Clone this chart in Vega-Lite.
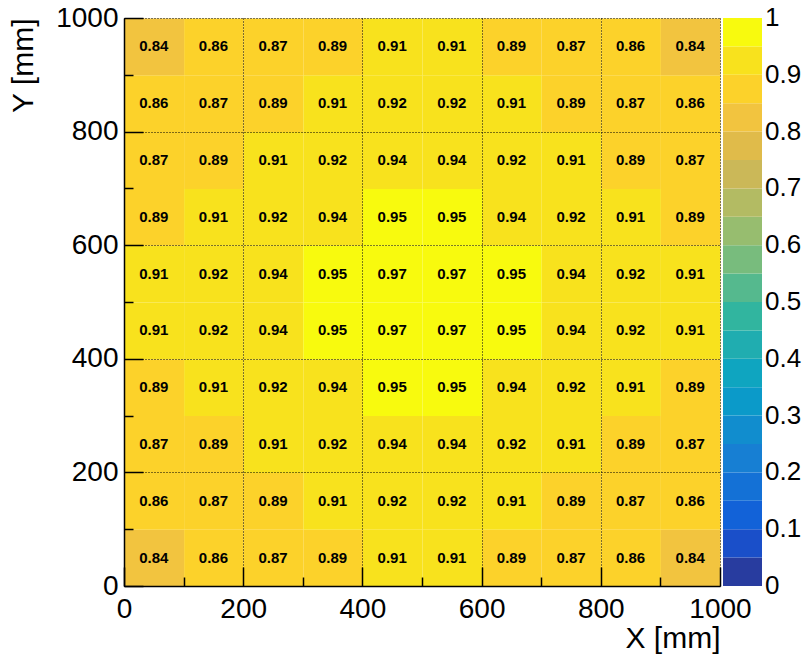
{
  "$schema": "https://vega.github.io/schema/vega-lite/v6.json",
  "width": 596,
  "height": 568,
  "autosize": {"type": "none"},
  "padding": {"left": 124, "top": 18, "right": 85, "bottom": 71},
  "background": "white",
  "config": {"view": {"stroke": null}, "font": "Liberation Sans"},
  "data": {"values": [
    {"x":50,"y":50,"v":0.84},{"x":150,"y":50,"v":0.86},{"x":250,"y":50,"v":0.87},{"x":350,"y":50,"v":0.89},{"x":450,"y":50,"v":0.91},{"x":550,"y":50,"v":0.91},{"x":650,"y":50,"v":0.89},{"x":750,"y":50,"v":0.87},{"x":850,"y":50,"v":0.86},{"x":950,"y":50,"v":0.84},
    {"x":50,"y":150,"v":0.86},{"x":150,"y":150,"v":0.87},{"x":250,"y":150,"v":0.89},{"x":350,"y":150,"v":0.91},{"x":450,"y":150,"v":0.92},{"x":550,"y":150,"v":0.92},{"x":650,"y":150,"v":0.91},{"x":750,"y":150,"v":0.89},{"x":850,"y":150,"v":0.87},{"x":950,"y":150,"v":0.86},
    {"x":50,"y":250,"v":0.87},{"x":150,"y":250,"v":0.89},{"x":250,"y":250,"v":0.91},{"x":350,"y":250,"v":0.92},{"x":450,"y":250,"v":0.94},{"x":550,"y":250,"v":0.94},{"x":650,"y":250,"v":0.92},{"x":750,"y":250,"v":0.91},{"x":850,"y":250,"v":0.89},{"x":950,"y":250,"v":0.87},
    {"x":50,"y":350,"v":0.89},{"x":150,"y":350,"v":0.91},{"x":250,"y":350,"v":0.92},{"x":350,"y":350,"v":0.94},{"x":450,"y":350,"v":0.95},{"x":550,"y":350,"v":0.95},{"x":650,"y":350,"v":0.94},{"x":750,"y":350,"v":0.92},{"x":850,"y":350,"v":0.91},{"x":950,"y":350,"v":0.89},
    {"x":50,"y":450,"v":0.91},{"x":150,"y":450,"v":0.92},{"x":250,"y":450,"v":0.94},{"x":350,"y":450,"v":0.95},{"x":450,"y":450,"v":0.97},{"x":550,"y":450,"v":0.97},{"x":650,"y":450,"v":0.95},{"x":750,"y":450,"v":0.94},{"x":850,"y":450,"v":0.92},{"x":950,"y":450,"v":0.91},
    {"x":50,"y":550,"v":0.91},{"x":150,"y":550,"v":0.92},{"x":250,"y":550,"v":0.94},{"x":350,"y":550,"v":0.95},{"x":450,"y":550,"v":0.97},{"x":550,"y":550,"v":0.97},{"x":650,"y":550,"v":0.95},{"x":750,"y":550,"v":0.94},{"x":850,"y":550,"v":0.92},{"x":950,"y":550,"v":0.91},
    {"x":50,"y":650,"v":0.89},{"x":150,"y":650,"v":0.91},{"x":250,"y":650,"v":0.92},{"x":350,"y":650,"v":0.94},{"x":450,"y":650,"v":0.95},{"x":550,"y":650,"v":0.95},{"x":650,"y":650,"v":0.94},{"x":750,"y":650,"v":0.92},{"x":850,"y":650,"v":0.91},{"x":950,"y":650,"v":0.89},
    {"x":50,"y":750,"v":0.87},{"x":150,"y":750,"v":0.89},{"x":250,"y":750,"v":0.91},{"x":350,"y":750,"v":0.92},{"x":450,"y":750,"v":0.94},{"x":550,"y":750,"v":0.94},{"x":650,"y":750,"v":0.92},{"x":750,"y":750,"v":0.91},{"x":850,"y":750,"v":0.89},{"x":950,"y":750,"v":0.87},
    {"x":50,"y":850,"v":0.86},{"x":150,"y":850,"v":0.87},{"x":250,"y":850,"v":0.89},{"x":350,"y":850,"v":0.91},{"x":450,"y":850,"v":0.92},{"x":550,"y":850,"v":0.92},{"x":650,"y":850,"v":0.91},{"x":750,"y":850,"v":0.89},{"x":850,"y":850,"v":0.87},{"x":950,"y":850,"v":0.86},
    {"x":50,"y":950,"v":0.84},{"x":150,"y":950,"v":0.86},{"x":250,"y":950,"v":0.87},{"x":350,"y":950,"v":0.89},{"x":450,"y":950,"v":0.91},{"x":550,"y":950,"v":0.91},{"x":650,"y":950,"v":0.89},{"x":750,"y":950,"v":0.87},{"x":850,"y":950,"v":0.86},{"x":950,"y":950,"v":0.84}
  ]},
  "layer": [
    {
      "mark": {"type": "rect"},
      "encoding": {
        "x": {"field": "x", "type": "quantitative", "bin": {"step": 100, "extent": [0, 1000]},
          "scale": {"domain": [0, 1000], "nice": false, "zero": false},
          "axis": {"orient": "bottom", "values": [0, 200, 400, 600, 800, 1000], "format": "d", "zindex": 1,
            "grid": true, "gridColor": "black", "gridDash": [1, 2], "gridWidth": 1, "gridOpacity": 1,
            "tickSize": -19, "tickColor": "black", "tickWidth": 1.5,
            "domainColor": "black", "domainWidth": 1.5,
            "labelFontSize": 28, "labelColor": "black", "labelPadding": 28, "labelFlush": false, "labelOverlap": false,
            "title": "X [mm]", "titleFontSize": 30, "titleFontWeight": "normal", "titleColor": "black",
            "titleAlign": "right", "titleAnchor": "end", "titleX": 596, "titleY": 61, "titleBaseline": "alphabetic"}},
        "y": {"field": "y", "type": "quantitative", "bin": {"step": 100, "extent": [0, 1000]},
          "scale": {"domain": [0, 1000], "nice": false, "zero": false},
          "axis": {"orient": "left", "values": [0, 200, 400, 600, 800, 1000], "format": "d", "zindex": 1,
            "grid": true, "gridColor": "black", "gridDash": [1, 2], "gridWidth": 1, "gridOpacity": 1,
            "tickSize": -19, "tickColor": "black", "tickWidth": 1.5,
            "domainColor": "black", "domainWidth": 1.5,
            "labelFontSize": 28, "labelColor": "black", "labelPadding": 25, "labelFlush": false, "labelOverlap": false,
            "title": "Y [mm]", "titleFontSize": 30, "titleFontWeight": "normal", "titleColor": "black",
            "titleAngle": 270, "titleAlign": "right", "titleAnchor": "end", "titleX": -92, "titleY": 0, "titleBaseline": "alphabetic"}},
        "color": {"field": "v", "type": "quantitative",
          "scale": {"type": "quantize", "domain": [0, 1], "nice": false, "zero": false,
            "range": ["#283c9f", "#1a4fc9", "#1262d8", "#1471d6", "#177fd3", "#118dce", "#0b9ac9", "#0fa5c0", "#20adb0", "#31b59f",
                      "#55b98e", "#78bc7d", "#97bd6f", "#b3bb63", "#cbb858", "#e0bb4a", "#f2c43f", "#fcd22a", "#f8e21d", "#f8fa0e"]},
          "legend": {"type": "gradient", "orient": "none", "legendX": 599, "legendY": 0, "direction": "vertical",
            "gradientLength": 568, "gradientThickness": 39, "gradientStrokeWidth": 0, "title": null, "padding": 0,
            "values": [0, 0.05, 0.1, 0.15, 0.2, 0.25, 0.3, 0.35, 0.4, 0.45, 0.5, 0.55, 0.6, 0.65, 0.7, 0.75, 0.8, 0.85, 0.9, 0.95, 1],
            "labelExpr": "round(datum.value * 20) % 2 == 0 ? format(datum.value, '~g') : ''",
            "labelBaseline": "middle",
            "encode": {"labels": {"update": {"baseline": {"value": "middle"}}}},
            "labelFontSize": 26, "labelFont": "Liberation Sans", "labelColor": "black", "labelOffset": 3, "labelOverlap": false}}
      }
    },
    {
      "mark": {"type": "text", "font": "Liberation Sans", "fontWeight": "bold", "fontSize": 15, "color": "black"},
      "encoding": {
        "x": {"field": "x", "type": "quantitative",
          "axis": {"orient": "bottom", "values": [100, 300, 500, 700, 900], "labels": false, "grid": false, "domain": false,
            "tickSize": -9, "tickColor": "black", "tickWidth": 1.5, "title": null, "zindex": 1}},
        "y": {"field": "y", "type": "quantitative",
          "axis": {"orient": "left", "values": [100, 300, 500, 700, 900], "labels": false, "grid": false, "domain": false,
            "tickSize": -9, "tickColor": "black", "tickWidth": 1.5, "title": null, "zindex": 1}},
        "text": {"field": "v", "type": "quantitative", "format": ".2f"}
      }
    }
  ],
  "resolve": {"axis": {"x": "independent", "y": "independent"}}
}
